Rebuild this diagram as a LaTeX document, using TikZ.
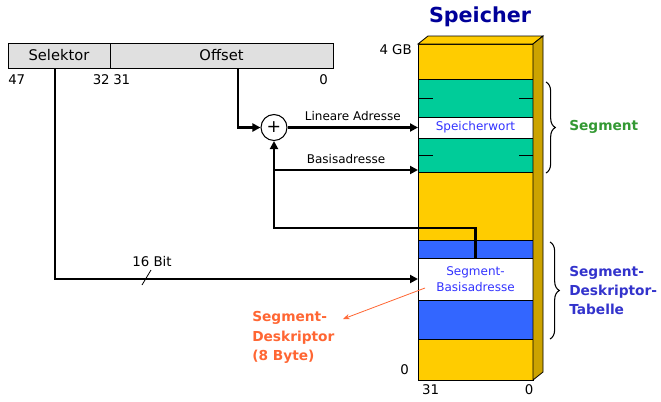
\documentclass[tikz,border=0pt]{standalone}
\usepackage{fontspec}
\setmainfont{DejaVu Sans}
\usetikzlibrary{arrows.meta, positioning, decorations.pathreplacing}

\definecolor{memgold}{RGB}{255,204,0}
\definecolor{memside}{RGB}{204,163,0}
\definecolor{seggreen}{RGB}{0,204,153}
\definecolor{tabblue}{RGB}{51,102,255}
\definecolor{wordblue}{RGB}{51,51,255}
\definecolor{titleblue}{RGB}{0,0,153}
\definecolor{labgreen}{RGB}{51,153,51}
\definecolor{labblue}{RGB}{51,51,204}
\definecolor{labred}{RGB}{255,102,51}
\definecolor{reggray}{RGB}{224,224,224}

\begin{document}
\begin{tikzpicture}[x=0.75pt, y=-0.75pt]
    \useasboundingbox (0,0) rectangle (661,401);

        % Define styles
        \tikzstyle{membox} = [rectangle, draw, line width=0.6pt, minimum width=86.25pt, inner sep=0pt, outer sep=0pt]
        \tikzstyle{regbox} = [rectangle, draw, line width=0.6pt, fill=reggray, minimum height=18.75pt, inner sep=0pt, outer sep=0pt, font=\fontsize{11}{13}\selectfont]
        \tikzstyle{conn} = [line width=1.8pt, -{Triangle[length=6pt,width=6pt]}]
        \tikzstyle{smalltext} = [font=\fontsize{9}{11}\selectfont]
        \tikzstyle{numtext} = [font=\fontsize{10}{12}\selectfont, inner sep=0pt]
        \tikzstyle{sidelabel} = [anchor=west, align=left, inner sep=0pt]

        % Register (Selektor : Offset)
        \node[regbox, minimum width=76.5pt] (selektor) at (59,55.5) {Selektor};
        \node[regbox, minimum width=167.25pt, right=0pt of selektor] (offset) {Offset};
        \node[numtext, anchor=west] (bit47) at (8,80) {47};
        \node[numtext, anchor=east] (bit32) at (110,80) {32};
        \node[numtext, anchor=west] (bit31) at (113,80) {31};
        \node[numtext, anchor=east] (bit0) at (328,80) {0};

        % Memory column (top to bottom)
        \node[font=\bfseries\fontsize{15.5}{18}\selectfont, text=titleblue] (title) at (480,17) {Speicher};
        \node[membox, fill=memgold, minimum height=26.25pt] (memtop) at (475.5,61.5) {};
        \node[membox, fill=seggreen, minimum height=28.5pt, below=0pt of memtop] (segup) {};
        \node[membox, fill=white, minimum height=15.75pt, below=0pt of segup, text=wordblue, smalltext] (wort) {Speicherwort};
        \node[membox, fill=seggreen, minimum height=25.5pt, below=0pt of wort] (segdn) {};
        \node[membox, fill=memgold, minimum height=51pt, below=0pt of segdn] (memmid) {};
        \node[membox, fill=tabblue, minimum height=13.5pt, below=0pt of memmid] (descup) {};
        \node[membox, fill=white, minimum height=31.5pt, below=0pt of descup, text=wordblue, align=center, font=\fontsize{9}{12.5}\selectfont] (basis) {Segment-\\Basisadresse};
        \node[membox, fill=tabblue, minimum height=29.25pt, below=0pt of basis] (descdn) {};
        \node[membox, fill=memgold, minimum height=30.75pt, below=0pt of descdn] (membot) {};

        % 3D faces
        \filldraw[fill=memgold, line width=0.6pt] (memtop.north west) -- ++(10,-8) -- ([shift={(10,-8)}]memtop.north east) -- (memtop.north east) -- cycle;
        \filldraw[fill=memside, line width=0.6pt] (memtop.north east) -- ++(10,-8) -- ([shift={(10,-8)}]membot.south east) -- (membot.south east) -- cycle;

        % Ticks in the segment
        \draw[line width=0.6pt] (segup.west) -- +(15,0);
        \draw[line width=0.6pt] (segup.east) -- +(-14,0);
        \draw[line width=0.6pt] (segdn.west) -- +(15,0);
        \draw[line width=0.6pt] (segdn.east) -- +(-14,0);

        % Memory addresses
        \node[numtext, anchor=east] (gb4) at (412,50) {4 GB};
        \node[numtext, anchor=east] (adr0) at (409,370) {0};
        \node[numtext] (col31) at (430.5,390) {31};
        \node[numtext] (col0) at (529,390) {0};

        % Adder
        \node[circle, draw, line width=0.8pt, minimum size=19.5pt, inner sep=0pt, font=\fontsize{13}{13}\selectfont] (plus) at (274,127.5) {+};

        % Connections
        \coordinate (selout) at (55,68);
        \coordinate (offout) at (238,68);
        \coordinate (abzw) at (274,170);
        \draw[conn] (selout) |- (basis.west);
        \draw[line width=0.6pt] (142,285) -- (151,270);
        \node[numtext] (bits16) at (152,262) {16 Bit};
        \draw[conn] (offout) |- (plus.west);
        \draw[conn] (plus.east) -- node[above=4pt, smalltext, inner sep=0pt] (linlab) {Lineare Adresse} (wort.west);
        \draw[conn] (abzw) -- node[above=4pt, smalltext, inner sep=0pt] (baslab) {Basisadresse} (abzw -| segdn.west);
        \draw[conn] (basis.north) -- ++(0,-30) -| (plus.south);

        % Braces
        \draw[decorate, decoration={brace, amplitude=7pt}, line width=0.8pt] (546,82) -- (546,173);
        \draw[decorate, decoration={brace, amplitude=7pt}, line width=0.8pt] (550,242) -- (550,339);
        \node[sidelabel, text=labgreen, font=\bfseries\fontsize{10.3}{12}\selectfont] (seglab) at (569,127) {Segment};
        \node[sidelabel, text=labblue, font=\bfseries\fontsize{10.3}{14.25}\selectfont] (tablab) at (569,290) {Segment-\\Deskriptor-\\Tabelle};

        % Descriptor label
        \node[sidelabel, text=labred, font=\bfseries\fontsize{10.3}{14.6}\selectfont] (desklab) at (252,337.5) {Segment-\\Deskriptor\\(8 Byte)};
        \coordinate (deskfrom) at (425,288);
        \coordinate (deskto) at (343,319);
        \draw[labred, line width=0.6pt, -{Stealth[length=5pt,width=4pt]}] (deskfrom) -- (deskto);

\end{tikzpicture}
\end{document}
